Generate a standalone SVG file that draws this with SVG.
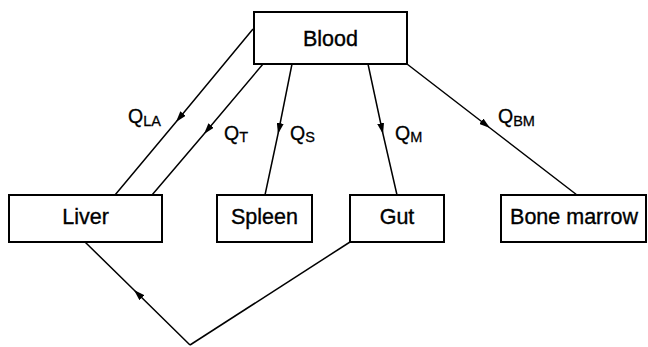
<svg xmlns="http://www.w3.org/2000/svg" width="648" height="347" viewBox="0 0 648 347">
  <style>
    .box { fill: #ffffff; stroke: #000000; stroke-width: 2; }
    .lbl { font-family: "Liberation Sans", Arial, sans-serif; font-size: 21.5px; fill: #000000; stroke: #000000; stroke-width: 0.35; text-anchor: middle; }
    .q { font-family: "Liberation Sans", Arial, sans-serif; font-size: 19.5px; fill: #000000; stroke: #000000; stroke-width: 0.3; }
    .sub { font-size: 14.5px; }
    .flow { fill: none; stroke: #000000; stroke-width: 1.5; marker-mid: url(#arrow); }
  </style>
  <defs>
    <marker id="arrow" viewBox="0 0 11 7" refX="11" refY="3.5" markerWidth="11" markerHeight="7" markerUnits="userSpaceOnUse" orient="auto">
      <path d="M0,0 L11,3.5 L0,7 Z" fill="#000000"/>
    </marker>
  </defs>

  <g id="connectors">
    <path class="flow" d="M253,29 L176,122 L115,195"/>
    <path class="flow" d="M263,64 L204,134 L152,195"/>
    <path class="flow" d="M292,64 L278,134 L265,195"/>
    <path class="flow" d="M368,64 L383,134 L397,195"/>
    <path class="flow" d="M407,64 L490,128 L577,195"/>
    <path class="flow" d="M190,345 L134,290 L85,242"/>
    <path d="M190,345 L350,242" fill="none" stroke="#000000" stroke-width="1.5"/>
  </g>

  <g id="flow-labels">
    <text class="q" x="128" y="123">Q<tspan class="sub" dy="3">LA</tspan></text>
    <text class="q" x="224" y="140">Q<tspan class="sub" dy="2">T</tspan></text>
    <text class="q" x="290" y="140">Q<tspan class="sub" dy="2">S</tspan></text>
    <text class="q" x="395" y="140">Q<tspan class="sub" dy="2">M</tspan></text>
    <text class="q" x="498" y="123">Q<tspan class="sub" dy="3">BM</tspan></text>
  </g>

  <g id="blood">
    <rect class="box" x="254" y="12" width="153" height="52"/>
    <text class="lbl" x="330.5" y="46">Blood</text>
  </g>
  <g id="liver">
    <rect class="box" x="9" y="195" width="153" height="47"/>
    <text class="lbl" x="85.5" y="224">Liver</text>
  </g>
  <g id="spleen">
    <rect class="box" x="217" y="195" width="95" height="47"/>
    <text class="lbl" x="264.5" y="224">Spleen</text>
  </g>
  <g id="gut">
    <rect class="box" x="350" y="195" width="94" height="47"/>
    <text class="lbl" x="397" y="224">Gut</text>
  </g>
  <g id="bone-marrow">
    <rect class="box" x="501" y="195" width="145" height="47"/>
    <text class="lbl" x="574" y="224">Bone marrow</text>
  </g>
</svg>
